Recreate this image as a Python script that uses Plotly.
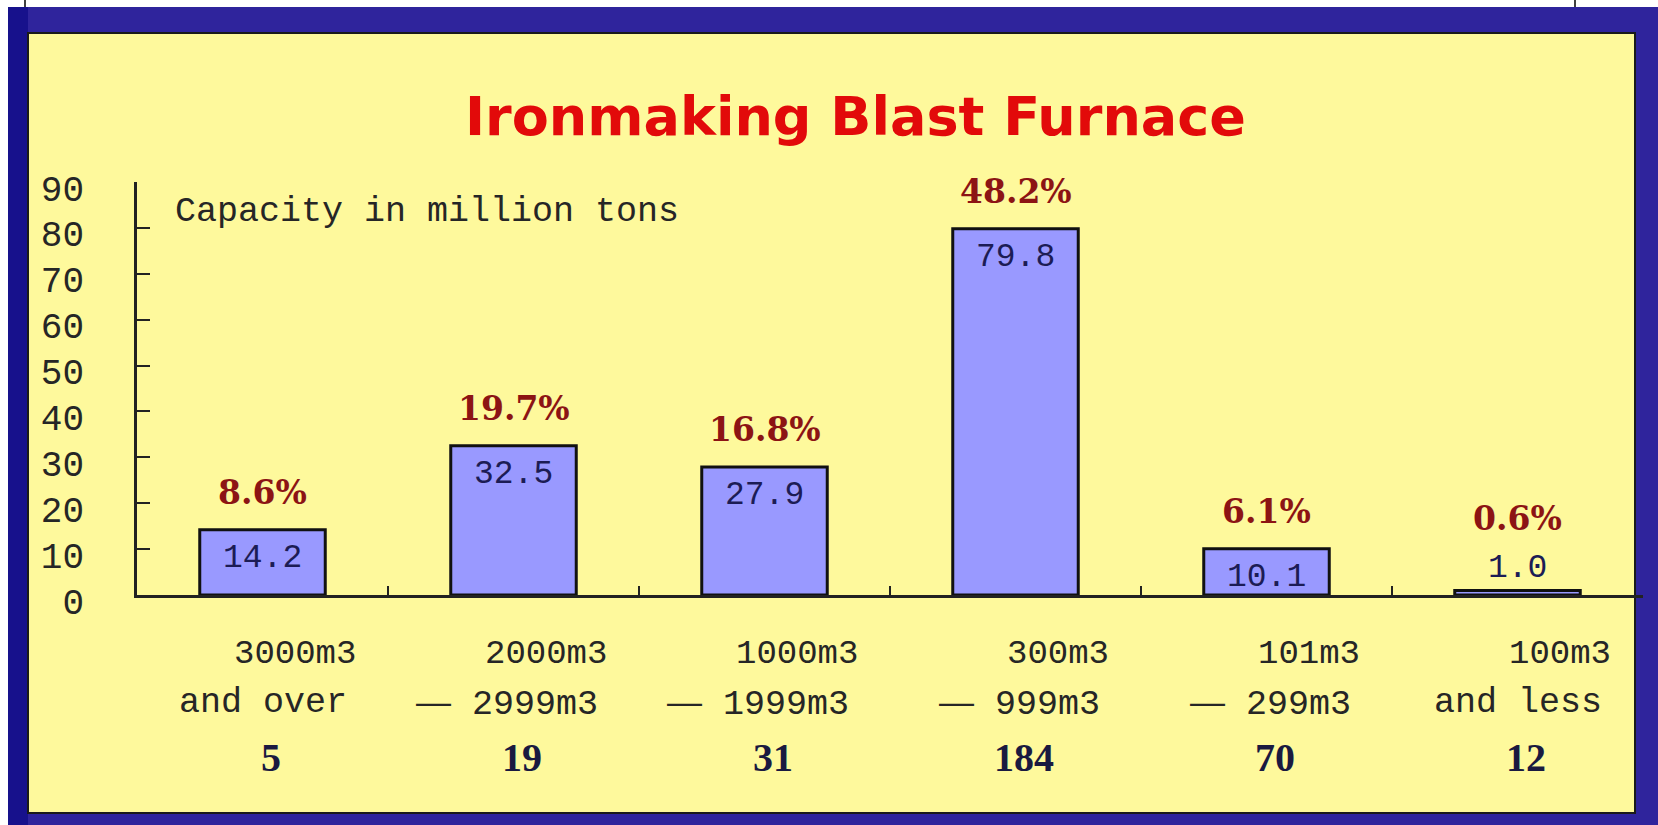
import plotly.graph_objects as go

# ---------------- data ----------------
size_top = ["3000m3", "2000m3", "1000m3", "300m3", "101m3", "100m3"]
size_bottom = ["and over", "— 2999m3", "— 1999m3", "— 999m3", "— 299m3", "and less"]
furnace_counts = [5, 19, 31, 184, 70, 12]
capacity = [14.2, 32.5, 27.9, 79.8, 10.1, 1.0]
share_pct = ["8.6%", "19.7%", "16.8%", "48.2%", "6.1%", "0.6%"]
categories = [f"{a} {b}" for a, b in zip(size_top, size_bottom)]

title_text = "Ironmaking Blast Furnace"
unit_text = "Capacity in million tons"
y_ticks = [0, 10, 20, 30, 40, 50, 60, 70, 80, 90]

# ---------------- layout geometry (pixels) ----------------
W, H = 1658, 825
PL, PR, PT, PB = 137, 1643, 182, 595  # plot area


def px2x(px):
    return (px - PL) / (PR - PL)


def px2y(py):
    return (PB - py) / (PB - PT)


MONO = "Liberation Mono"
TXT = "#262626"
NAVY = "#1c1c55"
DARKRED = "#8c1414"

fig = go.Figure()
fig.add_trace(go.Bar(
    x=categories, y=capacity, width=0.5,
    marker=dict(color="#9999ff", line=dict(color="#111111", width=3)),
    hoverinfo="skip",
))

shapes = [
    # white strip on top and left
    dict(type="rect", xref="paper", yref="paper", x0=px2x(0), x1=px2x(W), y0=px2y(0), y1=px2y(7),
         fillcolor="white", line=dict(width=0), layer="below"),
    dict(type="rect", xref="paper", yref="paper", x0=px2x(0), x1=px2x(8), y0=px2y(0), y1=px2y(H),
         fillcolor="white", line=dict(width=0), layer="below"),
    dict(type="line", xref="paper", yref="paper", x0=px2x(25), x1=px2x(25), y0=px2y(0), y1=px2y(7),
         line=dict(color="black", width=1.5), layer="below"),
    dict(type="line", xref="paper", yref="paper", x0=px2x(1575), x1=px2x(1575), y0=px2y(0), y1=px2y(7),
         line=dict(color="black", width=1.5), layer="below"),
    # darker left band of frame
    dict(type="rect", xref="paper", yref="paper", x0=px2x(8), x1=px2x(28), y0=px2y(7), y1=px2y(H),
         fillcolor="#17118c", line=dict(width=0), layer="below"),
    # yellow panel
    dict(type="rect", xref="paper", yref="paper", x0=px2x(28), x1=px2x(1635), y0=px2y(33), y1=px2y(813),
         fillcolor="#fef99c", line=dict(color="#1a1a1a", width=2), layer="below"),
]

annotations = [
    dict(text=title_text, xref="paper", yref="paper", x=px2x(855), y=px2y(116),
         xanchor="center", yanchor="middle", showarrow=False,
         font=dict(family="DejaVu Sans", size=54, color="#e20a0a", weight="bold")),
    dict(text=unit_text, xref="paper", yref="paper", x=px2x(173), y=px2y(212),
         xanchor="left", yanchor="middle", showarrow=False,
         font=dict(family=MONO, size=35, color=TXT)),
]

for cat, top, bot, cnt, val, pct in zip(categories, size_top, size_bottom, furnace_counts, capacity, share_pct):
    inside = val > 5
    # value label
    annotations.append(dict(
        text=f"{val:.1f}", x=cat, y=val, xref="x", yref="y", showarrow=False,
        xanchor="center", yanchor="middle", yshift=-29 if inside else 22,
        font=dict(family=MONO, size=33, color=NAVY)))
    # percentage label
    annotations.append(dict(
        text=pct, x=cat, y=val, xref="x", yref="y", showarrow=False,
        xanchor="center", yanchor="middle", yshift=37 if inside else 72,
        font=dict(family="DejaVu Serif", size=33, color=DARKRED, weight="bold")))
    # size class, two lines
    annotations.append(dict(
        text=top, x=cat, y=0, xref="x", yref="paper", showarrow=False,
        xanchor="right", yanchor="middle", xshift=95, yshift=-59,
        font=dict(family=MONO, size=34, color=TXT)))
    if bot.startswith("—"):
        bot_txt = '<span style="font-family:Liberation Sans">—</span>' + bot[1:]
    else:
        bot_txt = bot
    annotations.append(dict(
        text=bot_txt, x=cat, y=0, xref="x", yref="paper", showarrow=False,
        xanchor="right", yanchor="middle", xshift=86, yshift=-108,
        font=dict(family=MONO, size=35, color=TXT)))
    # number of furnaces
    annotations.append(dict(
        text=str(cnt), x=cat, y=0, xref="x", yref="paper", showarrow=False,
        xanchor="center", yanchor="middle", xshift=8, yshift=-162,
        font=dict(family="Liberation Serif", size=40, color="#1a1a40", weight="bold")))

fig.update_layout(
    width=W, height=H,
    margin=dict(l=PL, r=W - PR, t=PT, b=H - PB, autoexpand=False),
    paper_bgcolor="#2f249c",
    plot_bgcolor="rgba(0,0,0,0)",
    showlegend=False,
    bargap=0.5,
    shapes=shapes,
    annotations=annotations,
    xaxis=dict(
        type="category", categoryorder="array", categoryarray=categories,
        range=[-0.5, 5.5], showticklabels=False, ticks="inside", tickson="boundaries",
        ticklen=9, tickwidth=2, tickcolor="#222222",
        showline=True, linecolor="#222222", linewidth=2.5,
        showgrid=False, zeroline=False, fixedrange=True,
    ),
    yaxis=dict(
        range=[0, 90], tickmode="array", tickvals=y_ticks, ticktext=[str(t) for t in y_ticks],
        ticks="inside", ticklen=13, tickwidth=2, tickcolor="#222222",
        showline=True, linecolor="#222222", linewidth=2.5,
        showgrid=False, zeroline=False, fixedrange=True,
        tickfont=dict(family=MONO, size=36, color=TXT),
        ticklabelstandoff=43,
        ticklabelshift=6,
    ),
)

fig.write_html(
    "out.html",
    config={"displayModeBar": False},
    post_script="document.body.style.margin='0';document.body.style.overflow='hidden';",
)
